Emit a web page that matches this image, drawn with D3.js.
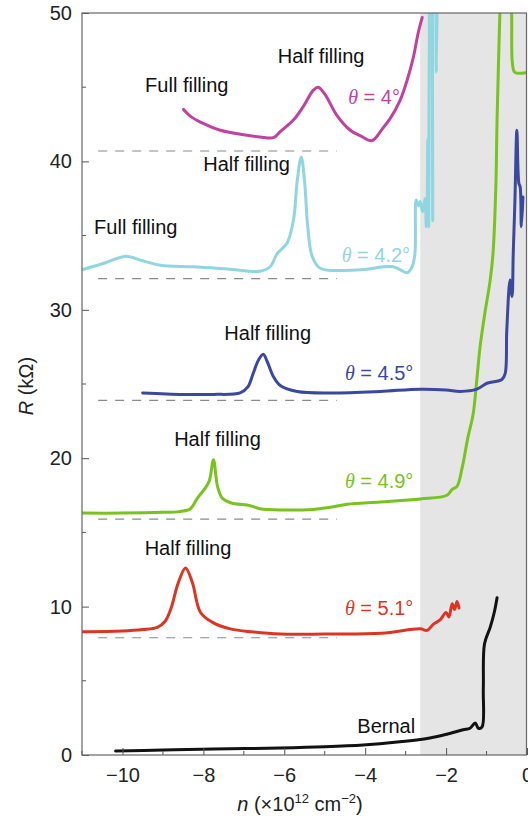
<!DOCTYPE html>
<html lang="en">
<head>
<meta charset="utf-8">
<title>R vs n</title>
<script src="https://cdnjs.cloudflare.com/ajax/libs/d3/7.8.5/d3.min.js"></script>
<style>
  body { margin: 0; background: #fff; }
  svg { display: block; font-family: "Liberation Sans", Arial, sans-serif; }
</style>
</head>
<body>
<script>
// curves, [n (1e12 cm^-2), R (kOhm)]
const bernal = [[-10.17,0.27],[-9,0.33],[-7.75,0.4],[-6.1,0.47],[-5,0.55],[-4.05,0.67],[-3.21,0.87],
  [-2.4,1.15],[-1.98,1.4],[-1.58,1.7],[-1.41,1.8],[-1.28,2.15],[-1.2,1.8],[-1.11,1.9],[-1.08,4.5],
  [-1.05,7.5],[-0.91,8.6],[-0.81,9.6],[-0.74,10.6]];
const theta51 = [[-11,8.3],[-10,8.35],[-9.5,8.45],[-9.14,8.6],[-8.95,9.0],[-8.81,9.8],[-8.62,11.6],
  [-8.44,12.6],[-8.27,11.6],[-8.07,9.6],[-7.75,8.9],[-7.33,8.5],[-6.8,8.3],[-6.1,8.15],[-5,8.15],
  [-3.6,8.2],[-2.64,8.5],[-2.47,8.4],[-2.32,8.8],[-2.15,9.1],[-2.0,9.6],[-1.93,9.3],[-1.85,10.2],
  [-1.79,9.8],[-1.73,10.35],[-1.68,9.9]];
const theta49 = [[-11,16.3],[-10,16.3],[-9,16.35],[-8.6,16.4],[-8.32,16.6],[-8.15,17.3],[-7.95,18.0],
  [-7.85,18.5],[-7.75,19.9],[-7.65,18.1],[-7.53,17.3],[-7.33,17.0],[-6.84,16.8],[-6.6,16.6],
  [-6.42,16.55],[-5.28,16.55],[-4.86,16.7],[-4.44,16.9],[-3.63,17.05],[-2.64,17.25],[-1.98,17.5],
  [-1.85,17.9],[-1.73,18.1],[-1.6,19.4],[-1.46,21.4],[-1.33,23.0],[-1.24,25.3],[-1.16,27.5],
  [-1.04,29.8],[-0.91,32],[-0.84,33.8],[-0.77,38.3],[-0.74,42.8],[-0.67,50],[-0.6,56],
  [-0.45,56],[-0.38,50],[-0.36,46.6],[-0.3,46.0],[0,46.0]];
const theta45 = [[-9.5,24.4],[-8.5,24.3],[-7.75,24.3],[-7.09,24.4],[-6.9,24.8],[-6.77,25.7],[-6.64,26.6],
  [-6.52,27.0],[-6.42,26.5],[-6.27,25.5],[-6.1,24.9],[-5.68,24.5],[-4.86,24.4],[-3.63,24.5],
  [-2.64,24.65],[-2.0,24.6],[-1.65,24.5],[-1.24,24.65],[-0.99,25.05],[-0.62,25.3],[-0.54,25.7],
  [-0.5,28.6],[-0.42,32],[-0.37,30.9],[-0.34,33.8],[-0.3,37.2],[-0.25,42.1],[-0.2,38.5],
  [-0.17,38.3],[-0.14,35.6],[-0.1,37.6]];
const theta42 = [[-11,32.7],[-10.5,33.1],[-9.93,33.6],[-9.5,33.3],[-9.06,33.0],[-8.25,32.9],[-7.4,32.75],
  [-6.6,32.6],[-6.35,32.9],[-6.17,33.8],[-5.93,34.5],[-5.77,36.1],[-5.68,38.7],[-5.58,40.3],
  [-5.5,38.7],[-5.42,35.6],[-5.31,33.6],[-5.11,32.8],[-4.12,32.7],[-3.31,32.9],[-2.96,32.5],
  [-2.84,32.9],[-2.77,33.8],[-2.74,37.4],[-2.68,37.0],[-2.64,37.3],[-2.58,36.6],[-2.52,37.5],
  [-2.49,35.6],[-2.47,37],[-2.45,41.5],[-2.43,35.6],[-2.41,52],[-2.38,56],[-2.35,52],[-2.33,36],
  [-2.31,55],[-2.27,56],[-2.24,46],[-2.2,55]];
const theta4 = [[-8.49,43.5],[-8.3,43.0],[-8.07,42.65],[-7.58,42.1],[-7.0,41.8],[-6.6,41.65],[-6.27,41.6],
  [-6.1,42.0],[-5.77,42.8],[-5.53,43.7],[-5.28,44.8],[-5.16,45.0],[-4.99,44.5],[-4.7,43.1],
  [-4.37,42.1],[-4.1,41.7],[-3.83,41.4],[-3.56,42.25],[-3.38,42.9],[-3.14,44.1],[-2.96,45.5],
  [-2.81,47.0],[-2.69,48.65],[-2.59,49.7]];

const offsets = [7.9, 15.9, 23.9, 32.1, 40.7];   // dashed zero lines
const dashSpan = [-10.6, -4.7];
const shaded = [-2.64, 0];
const xTicks = [-10, -8, -6, -4, -2, 0];
const yTicks = [0, 10, 20, 30, 40, 50];

const series = [
  {data: bernal, color: "#111111", label: null},
  {data: theta51, color: "#dc3524", label: "5.1°", at: [-2.81, 9.43]},
  {data: theta49, color: "#78c31e", label: "4.9°", at: [-2.81, 18.0]},
  {data: theta45, color: "#3b48a0", label: "4.5°", at: [-2.81, 25.3]},
  {data: theta42, color: "#8fd6e1", label: "4.2°", at: [-2.89, 33.2]},
  {data: theta4,  color: "#c2419f", label: "4°",   at: [-3.14, 43.9]}
];

const notes = [
  ["Full filling", -8.41, 44.68], ["Half filling", -5.09, 46.63],
  ["Half filling", -6.93, 39.35], ["Full filling", -9.67, 35.1],
  ["Half filling", -6.41, 27.96], ["Half filling", -7.65, 20.82],
  ["Half filling", -8.38, 13.48], ["Bernal", -3.48, 1.48]
];

const W = 528, H = 820;
const m = {left: 82, right: 1, top: 13, bottom: 65};
const fs = 20;

const svg = d3.select("body").append("svg").attr("width", W).attr("height", H);

const x = d3.scaleLinear().domain([-11, 0]).range([m.left, W - m.right]);
const y = d3.scaleLinear().domain([0, 50]).range([H - m.bottom, m.top]);

svg.append("clipPath").attr("id", "plot")
  .append("rect")
  .attr("x", x(-11)).attr("y", y(50))
  .attr("width", x(0) - x(-11)).attr("height", y(0) - y(50));

// gray band
svg.append("rect")
  .attr("x", x(shaded[0])).attr("y", y(50))
  .attr("width", x(shaded[1]) - x(shaded[0])).attr("height", y(0) - y(50))
  .attr("fill", "#e5e5e5");

// dashed offset lines
svg.selectAll(".dash").data(offsets).enter().append("line")
  .attr("x1", x(dashSpan[0])).attr("x2", x(dashSpan[1]))
  .attr("y1", d => y(d)).attr("y2", d => y(d))
  .attr("stroke", "#8a8a8a").attr("stroke-width", 1.2)
  .attr("stroke-dasharray", "9,8");

const line = d3.line()
  .x(d => x(d[0])).y(d => y(d[1]))
  .curve(d3.curveCatmullRom.alpha(0.5));

const g = svg.append("g").attr("clip-path", "url(#plot)");
g.selectAll("path").data(series).enter().append("path")
  .attr("d", d => line(d.data))
  .attr("fill", "none")
  .attr("stroke", d => d.color)
  .attr("stroke-width", 3)
  .attr("stroke-linejoin", "round").attr("stroke-linecap", "round");

// axes (ticks inward)
const xAxis = svg.append("g").attr("transform", `translate(0,${y(0)})`)
  .call(d3.axisBottom(x).tickValues(xTicks).tickSize(-7).tickPadding(13)
    .tickFormat(d => d === 0 ? "0" : "\u2212" + Math.abs(d)));
const yAxis = svg.append("g").attr("transform", `translate(${x(-11)},0)`)
  .call(d3.axisLeft(y).tickValues(yTicks).tickSize(-7).tickPadding(10));
[xAxis, yAxis].forEach(a => {
  a.select(".domain").remove();
  a.selectAll("line").attr("stroke", "#555");
  a.selectAll("text").attr("font-size", fs).attr("fill", "#222")
    .attr("font-family", "'Liberation Sans', Arial, sans-serif");
});

// minor ticks
svg.selectAll(".xminor").data(d3.range(-11, 0, 2)).enter().append("line")
  .attr("x1", d => x(d)).attr("x2", d => x(d))
  .attr("y1", y(0)).attr("y2", y(0) - 4).attr("stroke", "#555");
svg.selectAll(".yminor").data([5, 15, 25, 35, 45]).enter().append("line")
  .attr("x1", x(-11)).attr("x2", x(-11) + 4)
  .attr("y1", d => y(d)).attr("y2", d => y(d)).attr("stroke", "#555");

// frame
svg.append("rect")
  .attr("x", x(-11)).attr("y", y(50))
  .attr("width", x(0) - x(-11) - 0.5).attr("height", y(0) - y(50))
  .attr("fill", "none").attr("stroke", "#666").attr("stroke-width", 1.2);

// annotations
svg.selectAll(".note").data(notes).enter().append("text")
  .attr("x", d => x(d[1])).attr("y", d => y(d[2]))
  .attr("text-anchor", "middle").attr("font-size", fs).attr("fill", "#111")
  .text(d => d[0]);

const th = svg.selectAll(".theta").data(series.filter(s => s.label)).enter().append("text")
  .attr("x", d => x(d.at[0])).attr("y", d => y(d.at[1]))
  .attr("text-anchor", "end").attr("font-size", fs).attr("fill", d => d.color);
th.append("tspan").attr("font-style", "italic").attr("font-family", "'Liberation Serif', serif").text("\u03b8");
th.append("tspan").text(d => " = " + d.label);

// axis titles
const xl = svg.append("text").attr("x", 300).attr("y", 811)
  .attr("text-anchor", "middle").attr("font-size", fs).attr("fill", "#222");
xl.append("tspan").attr("font-style", "italic").text("n");
xl.append("tspan").text(" (\u00d710");
xl.append("tspan").attr("font-size", 13).attr("dy", -8).text("12");
xl.append("tspan").attr("dy", 8).text(" cm");
xl.append("tspan").attr("font-size", 13).attr("dy", -8).text("\u22122");
xl.append("tspan").attr("dy", 8).text(")");

const yl = svg.append("text")
  .attr("transform", `translate(33,${(y(0) + y(50)) / 2 + 2}) rotate(-90)`)
  .attr("text-anchor", "middle").attr("font-size", fs).attr("fill", "#222");
yl.append("tspan").attr("font-style", "italic").text("R");
yl.append("tspan").text(" (k\u03a9)");
</script>
</body>
</html>
